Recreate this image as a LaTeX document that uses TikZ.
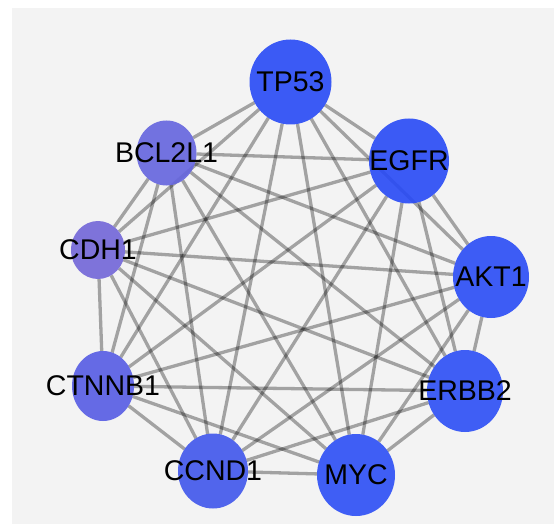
\documentclass[tikz,border=0pt]{standalone}
\usepackage{fontspec}
\setmainfont{Liberation Sans}
\usetikzlibrary{shapes.geometric}
\pgfdeclarelayer{bglayer}
\pgfdeclarelayer{edgelayer}
\pgfsetlayers{bglayer,edgelayer,main}
\definecolor{bgray}{RGB}{243,243,243}
\definecolor{cTP}{RGB}{40,74,246}
\definecolor{cEG}{RGB}{40,74,246}
\definecolor{cAK}{RGB}{42,76,246}
\definecolor{cER}{RGB}{44,78,246}
\definecolor{cMY}{RGB}{44,78,246}
\definecolor{cCC}{RGB}{64,86,236}
\definecolor{cCT}{RGB}{86,92,228}
\definecolor{cBC}{RGB}{100,100,222}
\definecolor{cCD}{RGB}{114,102,216}
\newcommand{\glabel}[1]{\makebox[0pt][c]{#1}}
\tikzset{
  gene/.style={ellipse, inner sep=0pt, outer sep=0pt, fill opacity=0.9, text opacity=1,
    font=\fontsize{28.5}{30}\selectfont, text=black},
  link/.style={draw=black, draw opacity=0.33, line width=3.3pt}
}
\begin{document}
\begin{tikzpicture}[x=1pt,y=-1pt]
\useasboundingbox (0,0) rectangle (554,524);
\begin{pgfonlayer}{bglayer}
\fill[white] (0,0) rectangle (554,524);
\fill[bgray] (12,8) rectangle (554,524);
\end{pgfonlayer}
\node[gene, fill=cTP, minimum width=82pt, minimum height=85pt] (tp53) at (290.5,82) {\glabel{TP53}};
\node[gene, fill=cEG, minimum width=80pt, minimum height=85pt] (egfr) at (409,161) {\glabel{EGFR}};
\node[gene, fill=cAK, minimum width=76pt, minimum height=82pt] (akt1) at (491,277) {\glabel{AKT1}};
\node[gene, fill=cER, minimum width=76pt, minimum height=82pt] (erbb2) at (465,391) {\glabel{ERBB2}};
\node[gene, fill=cMY, minimum width=78pt, minimum height=82pt] (myc) at (356,475) {\glabel{MYC}};
\node[gene, fill=cCC, minimum width=70pt, minimum height=75pt] (ccnd1) at (213,471) {\glabel{CCND1}};
\node[gene, fill=cCT, minimum width=62pt, minimum height=70pt] (ctnnb1) at (103,386) {\glabel{CTNNB1}};
\node[gene, fill=cCD, minimum width=54pt, minimum height=58pt] (cdh1) at (98,250) {\glabel{CDH1}};
\node[gene, fill=cBC, minimum width=60pt, minimum height=65pt] (bcl2l1) at (166.5,153) {\glabel{BCL2L1}};
\begin{pgfonlayer}{edgelayer}
\foreach \a/\b in {tp53/egfr,tp53/akt1,tp53/erbb2,tp53/myc,tp53/ccnd1,tp53/ctnnb1,tp53/cdh1,tp53/bcl2l1,
  egfr/akt1,egfr/erbb2,egfr/myc,egfr/ccnd1,egfr/ctnnb1,egfr/cdh1,egfr/bcl2l1,
  akt1/erbb2,akt1/myc,akt1/ccnd1,akt1/ctnnb1,akt1/cdh1,akt1/bcl2l1,
  erbb2/myc,erbb2/ccnd1,erbb2/ctnnb1,erbb2/cdh1,erbb2/bcl2l1,
  myc/ccnd1,myc/ctnnb1,myc/cdh1,myc/bcl2l1,
  ccnd1/ctnnb1,ccnd1/cdh1,ccnd1/bcl2l1,
  ctnnb1/cdh1,ctnnb1/bcl2l1,
  cdh1/bcl2l1}
  {\draw[link] (\a) -- (\b);}
\end{pgfonlayer}
\end{tikzpicture}
\end{document}
